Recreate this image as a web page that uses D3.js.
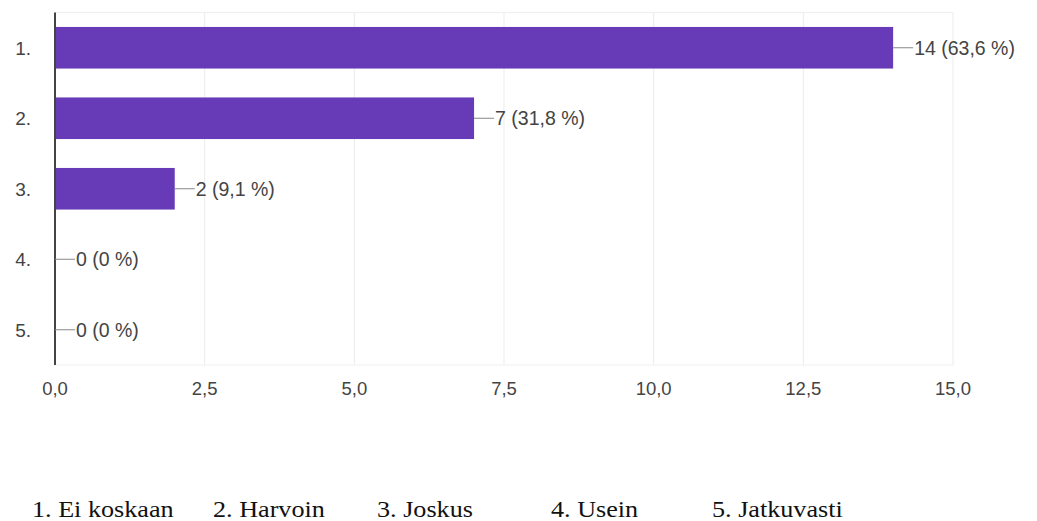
<!DOCTYPE html>
<html>
<head>
<meta charset="utf-8">
<script src="https://cdn.jsdelivr.net/npm/d3@7"></script>
<style>
  html, body { margin: 0; padding: 0; background: #fff; }
  svg { display: block; }
</style>
</head>
<body>
<svg id="chart" width="1037" height="521"></svg>
<script>
// Answer categories (row labels) and response counts
const categories = ["1.", "2.", "3.", "4.", "5."];
const counts = [14, 7, 2, 0, 0];
const percents = ["63,6 %", "31,8 %", "9,1 %", "0 %", "0 %"];
const xTicks = [0, 2.5, 5, 7.5, 10, 12.5, 15];
const legendItems = ["1. Ei koskaan", "2. Harvoin", "3. Joskus", "4. Usein", "5. Jatkuvasti"];
const legendX = [32, 213, 377, 551, 712];

const svg = d3.select("#chart");
const plotLeft = 55, plotRight = 953, plotTop = 12.5, plotBottom = 365;

const x = d3.scaleLinear().domain([0, 15]).range([plotLeft, plotRight]);
const y = d3.scaleBand().domain(categories).range([plotTop, plotBottom]).paddingInner(0.41).paddingOuter(0.205);

const fmt = v => d3.format(".1f")(v).replace(".", ",");

// Vertical gridlines
svg.append("g").selectAll("line").data(xTicks).join("line")
  .attr("x1", d => x(d)).attr("x2", d => x(d))
  .attr("y1", plotTop).attr("y2", plotBottom)
  .attr("stroke", "#ebebeb").attr("stroke-width", 1);

// Top and bottom frame lines
svg.append("g").selectAll("line").data([plotTop, plotBottom]).join("line")
  .attr("x1", plotLeft).attr("x2", plotRight)
  .attr("y1", d => d).attr("y2", d => d)
  .attr("stroke", "#efefef").attr("stroke-width", 1);

// Bars
svg.append("g").selectAll("rect").data(counts).join("rect")
  .attr("x", x(0))
  .attr("y", (d, i) => y(categories[i]))
  .attr("width", d => x(d) - x(0))
  .attr("height", y.bandwidth())
  .attr("fill", "#673ab7");

// Baseline axis
svg.append("line")
  .attr("x1", x(0)).attr("x2", x(0))
  .attr("y1", plotTop).attr("y2", plotBottom)
  .attr("stroke", "#444").attr("stroke-width", 2);

// Leader lines and value labels
const labels = svg.append("g");
counts.forEach((d, i) => {
  const cy = y(categories[i]) + y.bandwidth() / 2;
  const x0 = x(d);
  labels.append("line")
    .attr("x1", x0).attr("x2", x0 + 20)
    .attr("y1", cy).attr("y2", cy)
    .attr("stroke", "#888").attr("stroke-width", 1);
  labels.append("text")
    .attr("x", x0 + 21).attr("y", cy)
    .attr("dy", "0.36em")
    .attr("font-family", "Arial, 'Liberation Sans', sans-serif")
    .attr("font-size", 19.5)
    .attr("fill", "#444")
    .text(`${d} (${percents[i]})`);
});

// Category labels
svg.append("g").selectAll("text").data(categories).join("text")
  .attr("x", 31)
  .attr("y", d => y(d) + y.bandwidth() / 2)
  .attr("dy", "0.36em")
  .attr("text-anchor", "end")
  .attr("font-family", "Arial, 'Liberation Sans', sans-serif")
  .attr("font-size", 19)
  .attr("fill", "#444")
  .text(d => d);

// X tick labels
svg.append("g").selectAll("text").data(xTicks).join("text")
  .attr("x", d => x(d))
  .attr("y", 395)
  .attr("text-anchor", "middle")
  .attr("font-family", "Arial, 'Liberation Sans', sans-serif")
  .attr("font-size", 18.5)
  .attr("fill", "#444")
  .text(d => fmt(d));

// Legend (serif text, slightly widened)
svg.append("g").selectAll("text").data(legendItems).join("text")
  .attr("transform", (d, i) => `translate(${legendX[i]},517) scale(1.09,1)`)
  .attr("font-family", "'Liberation Serif', 'Times New Roman', serif")
  .attr("font-size", 24)
  .attr("fill", "#111")
  .text(d => d);
</script>
</body>
</html>
